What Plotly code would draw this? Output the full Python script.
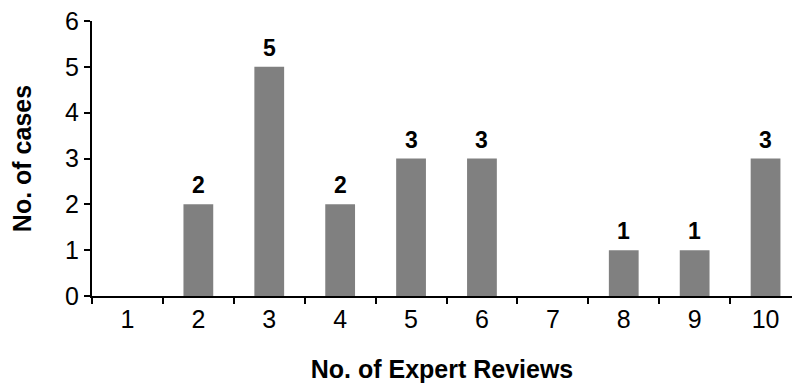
import plotly.graph_objects as go

# Number of expert reviews per case and how many cases had each count
reviews = ["1", "2", "3", "4", "5", "6", "7", "8", "9", "10"]
cases = [0, 2, 5, 2, 3, 3, 0, 1, 1, 3]
y_ticks = [0, 1, 2, 3, 4, 5, 6]

FONT = "Liberation Sans, Arial, sans-serif"

fig = go.Figure()
fig.add_trace(go.Bar(
    x=reviews,
    y=cases,
    width=0.42,
    marker=dict(color="#808080", line=dict(width=0)),
    hoverinfo="skip",
))

# Value labels above non-empty bars (category axis positions by index)
for i, c in enumerate(cases):
    if c > 0:
        fig.add_annotation(
            x=i, y=c, text=f"<b>{c}</b>", showarrow=False,
            yanchor="bottom", yshift=4,
            font=dict(family=FONT, size=23, color="black"),
        )

fig.update_layout(
    width=792, height=383,
    margin=dict(l=92, r=0, t=21, b=87),
    paper_bgcolor="white", plot_bgcolor="white",
    showlegend=False,
    font=dict(family=FONT, color="black"),
)
fig.update_xaxes(
    type="category",
    range=[-0.5, 9.373],
    tickson="boundaries",
    ticks="outside", ticklen=6, tickwidth=2, tickcolor="black",
    showline=True, linewidth=2, linecolor="black",
    showgrid=False, zeroline=False,
    tickfont=dict(family=FONT, size=25, color="black"),
    title=dict(text="<b>No. of Expert Reviews</b>", standoff=29,
               font=dict(family=FONT, size=25, color="black")),
)
fig.update_yaxes(
    range=[0, 6],
    tickmode="array", tickvals=y_ticks,
    ticks="outside", ticklen=6, tickwidth=2, tickcolor="black",
    showline=True, linewidth=2, linecolor="black",
    showgrid=False, zeroline=False,
    tickfont=dict(family=FONT, size=25, color="black"),
    title=dict(text="<b>No. of cases</b>", standoff=26,
               font=dict(family=FONT, size=25, color="black")),
)

fig.write_html("out.html")
